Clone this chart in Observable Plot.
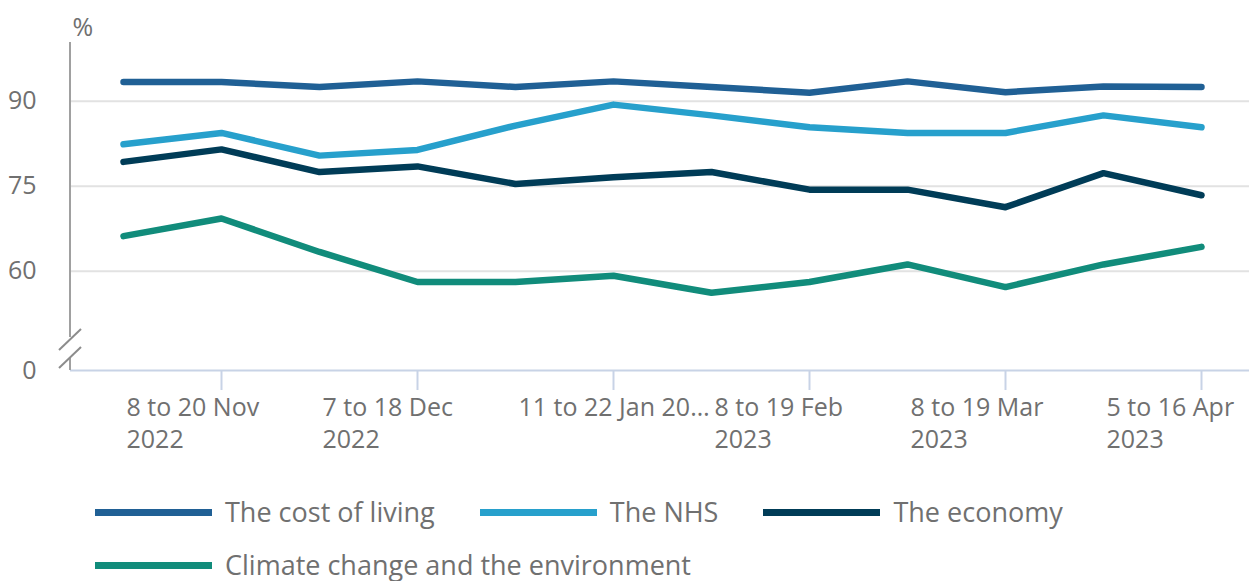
<!DOCTYPE html>
<html><head><meta charset="utf-8">
<script src="https://cdn.jsdelivr.net/npm/d3@7"></script>
<script src="https://cdn.jsdelivr.net/npm/@observablehq/plot@0.6"></script>
<style>
body{margin:0;background:#fff;font-family:"Open Sans",sans-serif;}
#legend{padding-left:95px;color:#707070;font-size:27px;line-height:1.05;display:flex;flex-wrap:wrap;width:1100px;}
.item{display:flex;align-items:center;height:53px;margin-right:45px;}
.sw{width:117px;height:7px;margin-right:13px;}
</style></head><body><div id="chart"></div><div id="legend"></div>
<script>
const periods = ["26 Oct to 6 Nov 2022","8 to 20 Nov 2022","23 Nov to 4 Dec 2022","7 to 18 Dec 2022","21 Dec 2022 to 8 Jan 2023","11 to 22 Jan 2023","25 Jan to 5 Feb 2023","8 to 19 Feb 2023","22 Feb to 5 Mar 2023","8 to 19 Mar 2023","22 Mar to 2 Apr 2023","5 to 16 Apr 2023"];
const tickPeriods = ["8 to 20 Nov 2022","7 to 18 Dec 2022","11 to 22 Jan 2023","8 to 19 Feb 2023","8 to 19 Mar 2023","5 to 16 Apr 2023"];
const tickLabels = ["8 to 20 Nov\n2022","7 to 18 Dec\n2022","11 to 22 Jan 20…","8 to 19 Feb\n2023","8 to 19 Mar\n2023","5 to 16 Apr\n2023"];
const seriesNames = ["The cost of living","The NHS","The economy","Climate change and the environment"];
const seriesColors = ["#206095","#27a0cc","#003c57","#118c7b"];
const costOfLiving = [93.4,93.4,92.5,93.5,92.5,93.5,92.5,91.5,93.5,91.6,92.6,92.5];
const nhs = [82.4,84.4,80.4,81.4,85.7,89.4,87.5,85.4,84.4,84.4,87.5,85.4];
const economy = [79.3,81.5,77.5,78.5,75.4,76.6,77.5,74.4,74.4,71.3,77.3,73.4];
const climate = [66.2,69.3,63.4,58.1,58.1,59.2,56.2,58.1,61.2,57.2,61.2,64.3];
const yTicks = [0,60,75,90];
const gridValues = [60,75,90];

const seriesValues = [costOfLiving, nhs, economy, climate];
const rows = seriesNames.flatMap((name, s) => periods.map((p, i) => ({series: name, period: p, value: seriesValues[s][i]})));

// broken axis: values below 50 are squeezed into a short segment (no data lies there)
const breakAt = 50, squeeze = 0.1503;
const yBreak = v => v < breakAt ? breakAt - (breakAt - v) * squeeze : v;
const yTickPos = yTicks.map(yBreak);

const textColor = "#707070";
const chart = Plot.plot({
  width: 1249,
  height: 486,
  marginLeft: 70,
  marginRight: 0,
  marginTop: 42,
  marginBottom: 116,
  style: {fontFamily: "'Open Sans', sans-serif", fontSize: "25px", color: textColor, background: "#fff"},
  x: {type: "point", domain: periods, padding: 0, insetLeft: 50, insetRight: 46},
  y: {domain: [yBreak(0), 100.36]},
  color: {domain: seriesNames, range: seriesColors},
  marks: [
    Plot.ruleY(gridValues, {stroke: "#e2e2e2", strokeWidth: 2}),
    Plot.ruleY([yBreak(0)], {stroke: "#c8d3e6", strokeWidth: 2}),
    Plot.axisY({ticks: yTickPos, tickSize: 0, tickPadding: 34, fontSize: 25, fill: textColor, label: null,
      tickFormat: d => String(yTicks[yTickPos.indexOf(d)])}),
    Plot.axisX({ticks: tickPeriods, tickSize: 20, stroke: "#c8d3e6", strokeWidth: 2, tickFormat: () => "", label: null}),
    Plot.axisX({ticks: tickPeriods, tickSize: 0, tickPadding: 23,
      tickFormat: d => tickLabels[tickPeriods.indexOf(d)], textAnchor: "start", dx: -95,
      lineHeight: 1.28, fontSize: 25, fill: textColor, label: null}),
    Plot.text(["%"], {frameAnchor: "top-left", textAnchor: "start", lineAnchor: "bottom", dx: 2, dy: -7, fontSize: 25, fill: textColor}),
    Plot.line(rows, {x: "period", y: d => yBreak(d.value), z: "series", stroke: "series", strokeWidth: 6.5, strokeLinecap: "round", strokeLinejoin: "round"})
  ]
});
document.getElementById("chart").appendChild(chart);

// y axis line with break symbol
const ys = chart.scale("y");
const y0 = ys.apply(yBreak(0));
const yTop = ys.apply(ys.domain[1]);
const ax = 70;
const svg = d3.select(chart);
const g = svg.append("g").attr("stroke-width", 2).attr("fill", "none");
g.append("line").attr("x1", ax).attr("x2", ax).attr("y1", yTop).attr("y2", y0 - 33).attr("stroke", "#a0a0a0");
g.append("line").attr("x1", ax).attr("x2", ax).attr("y1", y0 - 12).attr("y2", y0).attr("stroke", "#a0a0a0");
g.append("line").attr("x1", ax - 11).attr("x2", ax + 11).attr("y1", y0 - 20).attr("y2", y0 - 41).attr("stroke", "#8c8c8c");
g.append("line").attr("x1", ax - 11).attr("x2", ax + 11).attr("y1", y0 - 2).attr("y2", y0 - 23).attr("stroke", "#8c8c8c");
svg.selectAll("g[aria-label='line']").raise();

// legend
const legend = d3.select("#legend");
seriesNames.forEach((name, i) => {
  const it = legend.append("div").attr("class", "item");
  it.append("div").attr("class", "sw").style("background", seriesColors[i]);
  it.append("span").text(name);
});
</script></body></html>
